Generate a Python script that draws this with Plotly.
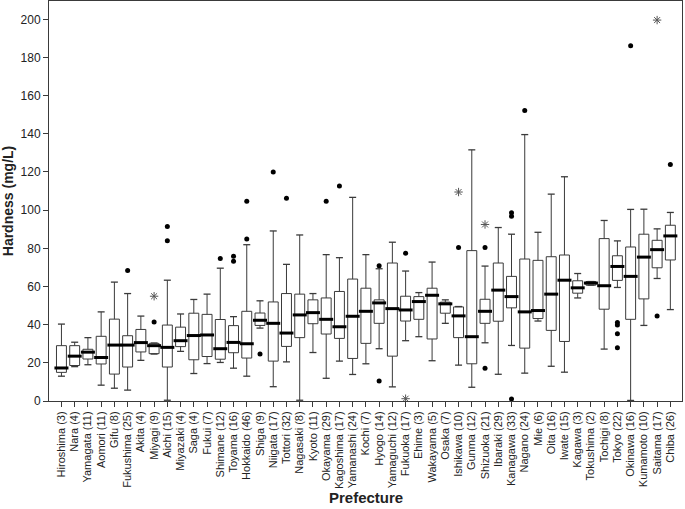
import plotly.graph_objects as go

prefectures = ["Hiroshima (3)", "Nara (4)", "Yamagata (11)", "Aomori (11)", "Gifu (8)",
               "Fukushima (25)", "Akita (4)", "Miyagi (9)", "Aichi (15)", "Miyazaki (4)",
               "Saga (4)", "Fukui (7)", "Shimane (12)", "Toyama (16)", "Hokkaido (46)",
               "Shiga (9)", "Niigata (17)", "Tottori (32)", "Nagasaki (8)", "Kyoto (11)",
               "Okayama (29)", "Kagoshima (17)", "Yamanashi (24)", "Kochi (7)", "Hyogo (14)",
               "Yamaguchi (12)", "Fukuoka (17)", "Ehime (3)", "Wakayama (5)", "Osaka (7)",
               "Ishikawa (10)", "Gunma (12)", "Shizuoka (21)", "Ibaraki (29)", "Kanagawa (33)",
               "Nagano (24)", "Mie (6)", "Oita (16)", "Iwate (15)", "Kagawa (3)",
               "Tokushima (2)", "Tochigi (8)", "Tokyo (22)", "Okinawa (16)", "Kumamoto (10)",
               "Saitama (17)", "Chiba (26)"]

lower_whisker = [13.0, 18.0, 19.0, 8.3, 6.7, 5.7, 21.3, 24.6, 0.4, 26.0,
                 14.4, 19.6, 20.2, 17.2, 13.0, 38.2, 7.5, 20.5, 0.4, 25.4,
                 11.9, 20.9, 13.9, 19.5, 27.4, 7.4, 31.6, 33.7, 21.1, 40.7,
                 18.8, 7.2, 30.5, 14.0, 29.1, 14.6, 41.9, 18.2, 15.1, 54.0,
                 60.7, 27.2, 59.5, 0.3, 39.6, 64.2, 47.9]
q1 = [15.0, 18.6, 22.0, 19.4, 14.1, 17.8, 25.7, 24.8, 17.8, 28.5,
      21.6, 23.3, 21.9, 25.3, 22.5, 39.6, 20.9, 28.6, 33.2, 40.5,
      35.1, 32.8, 22.3, 30.2, 40.7, 23.5, 41.9, 42.8, 32.5, 46.0,
      33.2, 19.5, 40.7, 41.8, 48.8, 27.7, 43.2, 37.0, 31.2, 56.5,
      60.7, 48.1, 63.2, 42.8, 53.5, 69.8, 73.9]
median = [17.3, 23.5, 25.6, 22.8, 29.3, 29.3, 30.6, 29.0, 28.1, 31.6,
          34.3, 34.6, 27.4, 30.7, 30.0, 42.3, 40.7, 35.6, 45.1, 46.3,
          42.8, 38.9, 44.4, 47.0, 51.4, 48.4, 47.7, 52.1, 55.4, 50.9,
          44.6, 33.7, 47.0, 58.1, 54.7, 46.7, 47.4, 56.0, 63.3, 59.3,
          61.8, 60.4, 70.5, 65.3, 75.4, 79.3, 86.5]
q3 = [29.0, 29.0, 27.1, 33.9, 42.9, 34.2, 37.5, 30.2, 39.8, 38.7,
      46.0, 45.4, 42.7, 39.5, 47.0, 46.1, 51.9, 56.3, 56.0, 53.0,
      54.0, 57.4, 63.9, 59.1, 53.0, 72.3, 54.9, 54.7, 59.1, 51.8,
      49.3, 78.8, 53.3, 72.3, 65.3, 74.4, 73.7, 75.6, 76.5, 63.0,
      62.6, 85.1, 76.1, 80.7, 87.4, 84.2, 92.1]
upper_whisker = [40.3, 30.8, 33.2, 46.7, 62.3, 56.3, 44.5, 30.4, 63.3, 45.6,
                 53.2, 56.0, 69.6, 44.2, 81.9, 52.5, 89.1, 71.6, 87.0, 56.3,
                 76.7, 75.1, 106.7, 76.7, 69.3, 83.2, 68.1, 56.8, 72.8, 53.0,
                 49.5, 131.6, 70.7, 90.9, 87.4, 139.6, 88.4, 108.4, 117.5, 66.8,
                 62.6, 94.6, 83.9, 100.4, 100.5, 90.2, 98.8]

outlier_pref = ["Fukushima (25)", "Miyagi (9)", "Aichi (15)", "Aichi (15)", "Shimane (12)",
                "Toyama (16)", "Toyama (16)", "Hokkaido (46)", "Hokkaido (46)", "Shiga (9)",
                "Niigata (17)", "Tottori (32)", "Okayama (29)", "Kagoshima (17)", "Hyogo (14)",
                "Hyogo (14)", "Fukuoka (17)", "Ishikawa (10)", "Shizuoka (21)", "Shizuoka (21)",
                "Kanagawa (33)", "Kanagawa (33)", "Kanagawa (33)", "Nagano (24)", "Tokyo (22)",
                "Tokyo (22)", "Tokyo (22)", "Tokyo (22)", "Okinawa (16)", "Saitama (17)",
                "Chiba (26)"]
outlier_val = [68.4, 41.4, 91.4, 84.0, 74.7,
               75.8, 73.2, 104.7, 84.9, 24.6,
               120.0, 106.3, 104.7, 112.6, 70.9,
               10.5, 77.4, 80.4, 80.4, 17.2,
               98.6, 96.8, 1.0, 152.2, 41.1,
               39.8, 35.3, 27.9, 186.1, 44.6,
               123.9]

extreme_pref = ["Miyagi (9)", "Fukuoka (17)", "Ishikawa (10)", "Shizuoka (21)", "Saitama (17)"]
extreme_val = [54.9, 1.2, 109.5, 92.5, 199.6]

y_ticks = [0, 20, 40, 60, 80, 100, 120, 140, 160, 180, 200]

LINE = "#3a3a3a"
TXT = "#222222"
FONT = "Liberation Sans, Arial, sans-serif"

fig = go.Figure()

fig.add_trace(go.Box(
    x=prefectures, q1=q1, median=median, q3=q3,
    lowerfence=lower_whisker, upperfence=upper_whisker,
    boxpoints=False, width=0.75,
    fillcolor="white", line=dict(color=LINE, width=1),
    whiskerwidth=0, showlegend=False, hoverinfo="skip",
))

# whisker caps
fig.add_trace(go.Scatter(
    x=prefectures + prefectures, y=lower_whisker + upper_whisker,
    mode="markers", showlegend=False, hoverinfo="skip",
    marker=dict(symbol="line-ew", size=5, color=LINE, line=dict(color=LINE, width=1.3)),
))

# thick median bars
fig.add_trace(go.Scatter(
    x=prefectures, y=median, mode="markers", showlegend=False, hoverinfo="skip",
    marker=dict(symbol="line-ew", size=10, color="black", line=dict(color="black", width=3)),
))

# outliers
fig.add_trace(go.Scatter(
    x=outlier_pref, y=outlier_val, mode="markers", showlegend=False, hoverinfo="skip",
    marker=dict(symbol="circle", size=5, color="black"),
))

# extremes
fig.add_trace(go.Scatter(
    x=extreme_pref, y=extreme_val, mode="markers", showlegend=False, hoverinfo="skip",
    marker=dict(symbol="asterisk-open", size=7, color="#555555",
                line=dict(color="#555555", width=1)),
))

fig.update_layout(
    width=685, height=509,
    margin=dict(l=49, r=3, t=1, b=108),
    paper_bgcolor="white", plot_bgcolor="white",
    font=dict(family=FONT, color=TXT),
    annotations=[dict(
        text="<b>Prefecture</b>", xref="paper", yref="paper",
        x=0.5, y=-96 / 400, xanchor="center", yanchor="middle",
        showarrow=False, font=dict(size=15, family=FONT, color=TXT),
    )],
)

fig.update_xaxes(
    type="category", categoryorder="array", categoryarray=prefectures,
    range=[-0.94, 46.88], automargin=False,
    showline=True, mirror=True, linecolor=LINE, linewidth=1,
    ticks="outside", ticklen=5, tickcolor=LINE, tickangle=-90,
    tickfont=dict(size=11, family=FONT, color=TXT),
    showgrid=False, zeroline=False,
)
fig.update_yaxes(
    range=[0, 209.6], tickvals=y_ticks, automargin=False,
    showline=True, mirror=True, linecolor=LINE, linewidth=1,
    ticks="outside", ticklen=5, tickcolor=LINE,
    tickfont=dict(size=12, family=FONT, color=TXT),
    showgrid=False, zeroline=False,
    title=dict(text="<b>Hardness (mg/L)</b>", font=dict(size=14, family=FONT, color=TXT), standoff=3),
)

fig.write_html(
    "out.html",
    config={"displayModeBar": False},
    post_script="document.body.style.margin='0';document.body.style.overflow='hidden';",
)
